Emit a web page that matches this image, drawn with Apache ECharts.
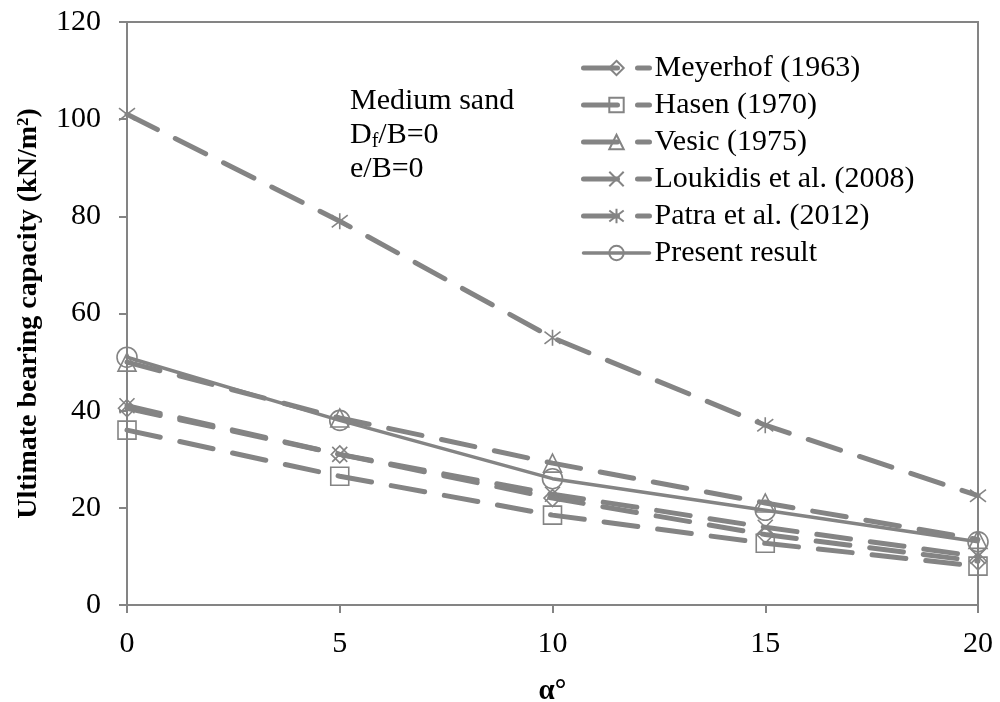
<!DOCTYPE html>
<html>
<head>
<meta charset="utf-8">
<script src="https://cdn.jsdelivr.net/npm/echarts@6/dist/echarts.min.js"></script>
<style>
  html, body { margin: 0; padding: 0; background: #fff; overflow: hidden; }
  #chart { width: 1000px; height: 702px; }
</style>
</head>
<body>
<div id="chart"></div>
<script>
// Inclination angle of the load (degrees)
const angles = [0, 5, 10, 15, 20];

// Ultimate bearing capacity (kN/m²) for each method
const meyerhof  = [40.5, 31, 22, 14.5, 9];
const hasen     = [36, 26.5, 18.5, 12.7, 8];
const vesic     = [50, 38.5, 29.2, 21, 13.5];
const loukidis  = [41, 31, 22.8, 16, 10];
const patra     = [101, 79, 55, 37, 22.5];
const present   = [51, 38, 26, 19.5, 13];

const yTicks = { min: 0, max: 120, interval: 20 };
const xTicks = { min: 0, max: 20, interval: 5 };

const GRAY = '#848484';
const FONT = '"Liberation Serif", "Times New Roman", serif';

const crossPath = 'path://M0,0L10,10M10,0L0,10';
const starPath = 'path://M0,0L10,10M10,0L0,10M5,-1.5L5,11.5';

function pairs(ys) { return angles.map((a, i) => [a, ys[i]]); }

function makeSeries(name, ys, symbol, size, dashed) {
  return {
    name: name,
    type: 'line',
    data: pairs(ys),
    symbol: symbol,
    symbolSize: size,
    showAllSymbol: true,
    lineStyle: {
      color: GRAY,
      width: dashed ? 5 : 3.5,
      type: dashed ? [34, 20] : 'solid',
      cap: 'round'
    },
    itemStyle: {
      color: 'rgba(0,0,0,0)',
      borderColor: GRAY,
      borderWidth: 1.6
    },
    emphasis: { disabled: true },
    animation: false
  };
}

const chart = echarts.init(document.getElementById('chart'), null, { renderer: 'canvas', width: 1000, height: 702 });

chart.setOption({
  backgroundColor: '#fff',
  animation: false,
  grid: {
    left: 127, right: 22, top: 22, bottom: 97,
    containLabel: false,
    outerBoundsMode: 'none',
    show: true, borderColor: GRAY, borderWidth: 2, backgroundColor: 'transparent'
  },
  xAxis: {
    type: 'value',
    min: xTicks.min, max: xTicks.max, interval: xTicks.interval,
    name: 'α°',
    nameLocation: 'middle',
    nameGap: 72,
    nameTextStyle: { fontFamily: FONT, fontSize: 29, fontWeight: 'bold', color: '#000' },
    axisLine: { lineStyle: { color: GRAY, width: 2 } },
    axisTick: { show: true, inside: false, length: 8, lineStyle: { color: GRAY, width: 2 } },
    axisLabel: { fontFamily: FONT, fontSize: 30, color: '#000', margin: 24 },
    splitLine: { show: false }
  },
  yAxis: {
    type: 'value',
    min: yTicks.min, max: yTicks.max, interval: yTicks.interval,
    name: 'Ultimate bearing capacity (kN/m²)',
    nameLocation: 'middle',
    nameGap: 84,
    nameRotate: 90,
    nameTextStyle: { fontFamily: FONT, fontSize: 28, fontWeight: 'bold', color: '#000' },
    axisLine: { show: true, lineStyle: { color: GRAY, width: 2 } },
    axisTick: { show: true, inside: false, length: 8, lineStyle: { color: GRAY, width: 2 } },
    axisLabel: { fontFamily: FONT, fontSize: 30, color: '#000', margin: 26 },
    splitLine: { show: false }
  },
  legend: {
    orient: 'vertical',
    left: 576, top: 48,
    itemWidth: 66, itemHeight: 18,
    itemGap: 7,
    lineStyle: { width: 'inherit' },
    textStyle: { fontFamily: FONT, fontSize: 30, color: '#000', lineHeight: 27 },
    data: ['Meyerhof (1963)', 'Hasen (1970)', 'Vesic (1975)', 'Loukidis et al. (2008)', 'Patra et al. (2012)', 'Present result']
  },
  graphic: [
    {
      type: 'text', left: 350, top: 84,
      style: {
        text: 'Medium sand\n{n|D}{s|f}{n|/B=0}\ne/B=0',
        font: '30px ' + FONT,
        fill: '#000',
        lineHeight: 34,
        rich: {
          n: { fontFamily: FONT, fontSize: 30, fill: '#000' },
          s: { fontFamily: FONT, fontSize: 20, fill: '#000', verticalAlign: 'bottom', padding: [16, 0, 0, 0] }
        }
      }
    }
  ],
  series: [
    makeSeries('Meyerhof (1963)', meyerhof, 'diamond', 17, true),
    makeSeries('Hasen (1970)', hasen, 'rect', 18, true),
    makeSeries('Vesic (1975)', vesic, 'triangle', 18, true),
    makeSeries('Loukidis et al. (2008)', loukidis, crossPath, 15, true),
    makeSeries('Patra et al. (2012)', patra, starPath, 16, true),
    makeSeries('Present result', present, 'circle', 20, false)
  ]
});
</script>
</body>
</html>
